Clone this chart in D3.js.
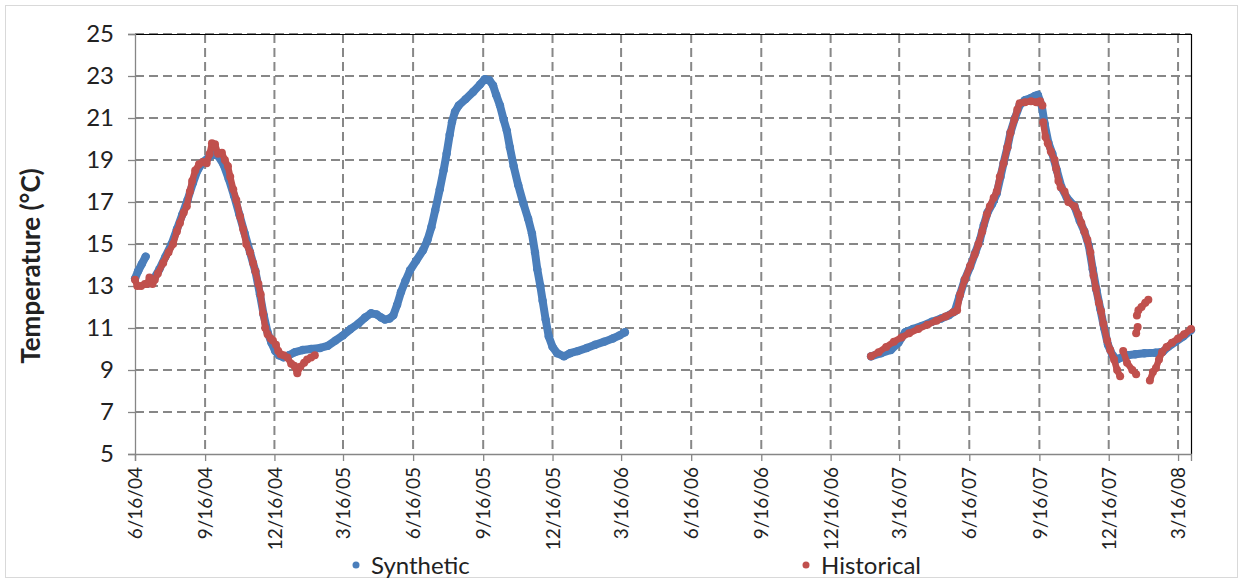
<!DOCTYPE html>
<html>
<head>
<meta charset="utf-8">
<script src="https://cdn.jsdelivr.net/npm/d3@7"></script>
<style>
  body { margin: 0; background: #fff; }
  text { font-family: Lato, "Open Sans", sans-serif; fill: #222; }
</style>
</head>
<body>
<svg id="chart" width="1243" height="581"></svg>
<script>
// synthetic series (null = gap)
var synthDates = [
  "6/16/04","6/20/04","6/25/04","6/30/04", null,
  "7/2/04","7/10/04","7/18/04","7/26/04","8/3/04","8/10/04","8/17/04","8/24/04","8/31/04","9/6/04",
  "9/13/04","9/20/04","9/27/04","10/3/04","10/10/04","10/17/04","10/24/04","10/31/04","11/7/04","11/14/04",
  "11/21/04","11/27/04","12/2/04","12/7/04","12/12/04","12/17/04","12/22/04","12/28/04","1/4/05","1/12/05",
  "1/22/05","2/2/05","2/14/05","2/24/05","3/6/05","3/16/05","3/26/05","4/5/05","4/14/05","4/22/05",
  "4/29/05","5/5/05","5/10/05","5/16/05","5/21/05","5/26/05","5/31/05","6/6/05","6/12/05","6/20/05",
  "6/29/05","7/5/05","7/10/05","7/15/05","7/21/05","7/26/05","7/30/05","8/3/05","8/6/05","8/10/05",
  "8/15/05","8/24/05","9/3/05","9/12/05","9/18/05","9/24/05","9/29/05","10/3/05","10/8/05","10/13/05",
  "10/17/05","10/21/05","10/26/05","11/1/05","11/8/05","11/14/05","11/19/05","11/23/05","11/26/05","11/30/05",
  "12/3/05","12/7/05","12/11/05","12/16/05","12/22/05","12/31/05","1/8/06","1/18/06","1/30/06","2/10/06",
  "2/22/06","3/5/06","3/14/06","3/21/06", null,
  "2/7/07","2/20/07","3/5/07","3/15/07","3/24/07","4/3/07","4/15/07","4/28/07","5/10/07","5/20/07",
  "5/28/07","6/3/07","6/10/07","6/17/07","6/24/07","6/30/07","7/5/07","7/10/07","7/16/07","7/22/07",
  "7/27/07","7/31/07","8/5/07","8/9/07","8/15/07","8/21/07","8/28/07","9/5/07","9/10/07","9/14/07",
  "9/19/07","9/23/07","9/28/07","10/3/07","10/9/07","10/15/07","10/22/07","11/1/07","11/8/07","11/14/07",
  "11/20/07","11/25/07","11/30/07","12/5/07","12/10/07","12/15/07","12/21/07","12/27/07","1/2/08","1/10/08",
  "1/20/08","2/1/08","2/15/08","2/25/08","3/3/08","3/13/08","3/23/08","4/2/08"
];
var synthTemps = [
  13.35,13.7,14.05,14.4, null,
  13.1,13.3,13.8,14.4,15.0,15.7,16.4,17.1,17.9,18.5,
  18.9,19.1,19.3,19.2,18.8,18.1,17.3,16.4,15.5,14.6,
  13.7,12.6,11.6,10.8,10.3,9.9,9.7,9.6,9.7,9.85,
  9.95,10.0,10.05,10.15,10.4,10.65,10.95,11.2,11.5,11.7,
  11.65,11.5,11.4,11.45,11.6,12.1,12.7,13.25,13.75,14.2,
  14.7,15.2,15.8,16.6,17.6,18.5,19.3,20.2,20.8,21.3,
  21.6,21.9,22.25,22.6,22.85,22.8,22.55,22.1,21.6,20.9,
  20.4,19.6,18.7,17.8,16.9,16.2,15.5,14.6,13.8,13.0,
  12.3,11.4,10.6,10.1,9.8,9.65,9.8,9.9,10.05,10.2,
  10.35,10.5,10.65,10.8, null,
  9.65,9.8,9.95,10.3,10.8,10.95,11.1,11.3,11.45,11.6,
  11.8,12.5,13.3,13.9,14.6,15.2,15.9,16.5,16.9,17.4,
  18.2,18.85,19.6,20.3,21.0,21.6,21.85,21.95,22.05,22.1,
  21.6,20.7,19.8,19.3,18.5,17.7,17.2,16.8,16.1,15.6,
  14.9,13.8,12.8,11.9,11.0,10.2,9.7,9.5,9.6,9.7,
  9.75,9.8,9.82,9.87,10.1,10.35,10.6,10.9
];

// historical series (null = gap)
var histDates = [
  "6/16/04","6/19/04","6/24/04","6/29/04","7/2/04","7/5/04","7/9/04","7/12/04","7/16/04","7/23/04",
  "7/30/04","8/5/04","8/10/04","8/14/04","8/19/04","8/23/04","8/27/04","8/30/04","9/3/04","9/8/04",
  "9/13/04","9/18/04","9/22/04","9/25/04","9/29/04","10/3/04","10/8/04","10/12/04","10/16/04","10/19/04",
  "10/23/04","10/27/04","11/1/04","11/5/04","11/9/04","11/14/04","11/18/04","11/21/04","11/25/04","11/28/04",
  "12/1/04","12/4/04","12/7/04","12/11/04","12/14/04","12/18/04","12/21/04","12/24/04","12/28/04","1/2/05",
  "1/7/05","1/11/05","1/15/05","1/19/05","1/24/05","1/28/05","2/2/05","2/7/05", null,
  "2/7/07","2/17/07","2/27/07","3/9/07","3/19/07","3/29/07","4/10/07","4/22/07","5/4/07","5/16/07",
  "5/26/07","5/31/07","6/4/07","6/10/07","6/17/07","6/23/07","6/28/07","7/3/07","7/9/07","7/13/07",
  "7/18/07","7/22/07","7/26/07","7/31/07","8/5/07","8/9/07","8/14/07","8/18/07","8/21/07","8/28/07",
  "9/5/07","9/12/07","9/17/07","9/20/07", null,
  "9/21/07","9/24/07","9/27/07","10/1/07","10/6/07","10/8/07","10/11/07","10/14/07","10/19/07","10/24/07",
  "11/1/07","11/6/07","11/10/07","11/14/07","11/18/07","11/22/07","11/26/07","11/29/07","12/3/07","12/6/07",
  "12/9/07","12/14/07","12/18/07","12/23/07","12/27/07","12/31/07", null,
  "1/4/08","1/9/08","1/16/08","1/21/08", null,
  "1/21/08","1/23/08", null,
  "1/22/08","1/24/08","1/28/08","2/2/08","2/6/08", null,
  "2/8/08","2/12/08","2/16/08","2/20/08","2/24/08","3/1/08","3/8/08","3/16/08","3/24/08","4/2/08"
];
var histTemps = [
  13.3,13.0,13.0,13.1,13.1,13.4,13.1,13.3,13.6,14.1,
  14.6,15.0,15.6,16.0,16.5,16.8,17.5,18.0,18.5,18.8,
  18.9,18.85,19.3,19.8,19.75,19.3,19.35,19.0,18.7,18.2,
  17.6,17.1,16.3,15.7,15.0,14.6,14.1,13.7,13.1,12.6,
  11.7,11.0,10.7,10.5,10.4,10.2,9.9,9.75,9.7,9.6,
  9.3,9.2,8.85,9.15,9.35,9.5,9.6,9.7, null,
  9.65,9.85,10.1,10.35,10.55,10.75,10.95,11.15,11.35,11.55,
  11.75,11.85,12.6,13.3,13.95,14.5,15.0,15.6,16.4,16.8,
  17.2,17.5,18.2,18.85,19.6,20.3,20.9,21.4,21.7,21.75,
  21.8,21.75,21.8,21.6, null,
  20.8,20.1,19.8,19.4,19.0,18.6,18.0,17.7,17.5,17.0,
  16.8,16.4,16.0,15.6,15.2,14.6,13.5,12.9,12.2,11.8,
  11.2,10.4,9.95,9.5,9.0,8.7, null,
  9.9,9.35,9.0,8.8, null,
  10.75,11.05, null,
  11.6,11.85,12.0,12.2,12.35, null,
  8.5,8.9,9.1,9.5,9.85,10.1,10.3,10.5,10.7,10.95
];

var yTicks = [5, 7, 9, 11, 13, 15, 17, 19, 21, 23, 25];
var xStart = "6/16/04", xEnd = "4/2/08";
var seriesNames = ["Synthetic", "Historical"];
var seriesColors = ["#4a7ebb", "#c0504d"];

var parse = d3.timeParse("%m/%d/%y");
var fmt = function(d) {
  return (d.getMonth() + 1) + "/" + d.getDate() + "/" + d3.timeFormat("%y")(d);
};

function toPoints(dates, temps) {
  return dates.map(function(d, i) {
    return d == null ? null : { date: parse(d), temp: temps[i] };
  });
}
var synth = toPoints(synthDates, synthTemps);
var hist = toPoints(histDates, histTemps);

var svg = d3.select("#chart");
var margin = { top: 34, right: 52, bottom: 127, left: 135 };
var W = 1243, H = 581;
var plotW = W - margin.left - margin.right;
var plotH = H - margin.top - margin.bottom;

// outer chart border
svg.append("rect")
  .attr("x", 5.5).attr("y", 5.5)
  .attr("width", 1232).attr("height", 572)
  .style("fill", "none").style("stroke", "#d9d9d9");

var x = d3.scaleTime().domain([parse(xStart), parse(xEnd)]).range([0, plotW]);
var y = d3.scaleLinear().domain([5, 25]).range([plotH, 0]);

var xTicks = [];
for (var t = parse(xStart); t <= parse(xEnd); t = d3.timeMonth.offset(t, 3)) xTicks.push(t);

var g = svg.append("g").attr("transform", "translate(" + margin.left + "," + margin.top + ")");

// grid
g.selectAll(".hgrid").data(yTicks.slice(1)).enter().append("line")
  .attr("x1", 0).attr("x2", plotW)
  .attr("y1", function(d) { return y(d); }).attr("y2", function(d) { return y(d); })
  .style("stroke", "#878787").style("stroke-width", 2).style("stroke-dasharray", "9,5");
g.selectAll(".vgrid").data(xTicks.slice(1)).enter().append("line")
  .attr("x1", function(d) { return x(d); }).attr("x2", function(d) { return x(d); })
  .attr("y1", 0).attr("y2", plotH)
  .style("stroke", "#878787").style("stroke-width", 2).style("stroke-dasharray", "9,5");

// plot border top/right
g.append("path")
  .attr("d", "M0,0.5H" + (plotW + 0.5) + "V" + plotH)
  .style("fill", "none").style("stroke", "#000").style("stroke-width", 1.2);

// axes
var yAxis = g.append("g").call(d3.axisLeft(y).tickValues(yTicks).tickSize(7).tickPadding(14));
var xAxis = g.append("g").attr("transform", "translate(0," + plotH + ")")
  .call(d3.axisBottom(x).tickValues(xTicks).tickSize(7).tickFormat(fmt));
[yAxis, xAxis].forEach(function(a) {
  a.select(".domain").style("stroke", "#868686").style("stroke-width", 1.3);
  a.selectAll(".tick line").style("stroke", "#868686").style("stroke-width", 1.3);
});
yAxis.selectAll("text").style("font-size", "24px").style("font-family", "Lato, sans-serif").style("fill", "#222");
xAxis.selectAll("text")
  .style("font-size", "19px").style("font-family", "Lato, sans-serif").style("fill", "#222")
  .attr("transform", "rotate(-90)")
  .attr("text-anchor", "end")
  .attr("x", -13).attr("y", 0).attr("dy", "0.35em");

// series
var line = d3.line()
  .defined(function(d) { return d != null; })
  .x(function(d) { return x(d.date); })
  .y(function(d) { return y(d.temp); });

function drawSeries(data, color, width, r) {
  g.append("path").datum(data).attr("d", line)
    .style("fill", "none").style("stroke", color)
    .style("stroke-width", width).style("stroke-linecap", "round").style("stroke-linejoin", "round");
  g.selectAll(null).data(data.filter(function(d) { return d != null; })).enter().append("circle")
    .attr("cx", function(d) { return x(d.date); })
    .attr("cy", function(d) { return y(d.temp); })
    .attr("r", r).style("fill", color);
}
drawSeries(synth, seriesColors[0], 8, 4.2);
drawSeries(hist, seriesColors[1], 6.5, 4);

// y title
svg.append("text")
  .attr("transform", "translate(40,266) rotate(-90)")
  .attr("text-anchor", "middle")
  .style("font-size", "26px").style("font-weight", "bold")
  .text("Temperature (°C)");

// legend
var legX = [356, 806];
seriesNames.forEach(function(name, i) {
  svg.append("circle").attr("cx", legX[i]).attr("cy", 565).attr("r", 3.5).style("fill", seriesColors[i]);
  svg.append("text").attr("x", legX[i] + 15).attr("y", 574)
    .style("font-size", "24px").text(name);
});
</script>
</body>
</html>
